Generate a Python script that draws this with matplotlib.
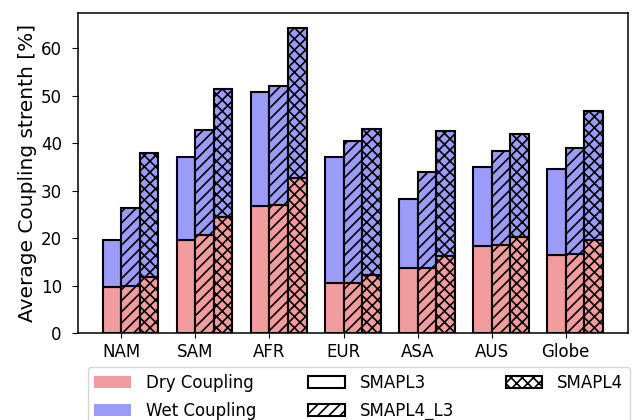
import numpy as np
import matplotlib
matplotlib.use('Agg')
import matplotlib.pyplot as plt
from matplotlib.patches import Patch

regions = ['NAM', 'SAM', 'AFR', 'EUR', 'ASA', 'AUS', 'Globe']
products = ['SMAPL3', 'SMAPL4_L3', 'SMAPL4']
hatches = ['', '///', 'xxx']

# dry coupling part (bottom) and total (dry + wet) for each product
dry_l3 = [9.8, 19.6, 26.8, 10.5, 13.6, 18.3, 16.5]
tot_l3 = [19.5, 37.0, 50.8, 37.1, 28.2, 34.9, 34.5]
dry_l4l3 = [10.0, 20.7, 26.9, 10.6, 13.8, 18.6, 16.7]
tot_l4l3 = [26.4, 42.8, 52.1, 40.5, 34.0, 38.4, 38.9]
dry_l4 = [11.9, 24.4, 32.7, 12.2, 16.3, 20.3, 19.6]
tot_l4 = [38.0, 51.4, 64.2, 42.9, 42.6, 41.9, 46.8]

dry_all = [dry_l3, dry_l4l3, dry_l4]
tot_all = [tot_l3, tot_l4l3, tot_l4]

dry_color = '#f29d9d'
wet_color = '#9b9bf8'

plt.rcParams['font.size'] = 12
plt.rcParams['hatch.linewidth'] = 1.2
plt.rcParams['ytick.major.size'] = 4.5
plt.rcParams['ytick.major.pad'] = 7
plt.rcParams['axes.linewidth'] = 1.1

fig = plt.figure(figsize=(6.38, 4.2), dpi=100)
ax = fig.add_axes([0.122, 0.207, 0.862, 0.762])

x = np.arange(len(regions))
w = 0.25
for i in range(3):
    dry = np.array(dry_all[i])
    wet = np.array(tot_all[i]) - dry
    pos = x + (i - 1) * w
    ax.bar(pos, dry, w, align='edge', color=dry_color, edgecolor='black',
           linewidth=1.5, hatch=hatches[i])
    ax.bar(pos, wet, w, bottom=dry, align='edge', color=wet_color,
           edgecolor='black', linewidth=1.5, hatch=hatches[i])

ax.set_xticks(x)
ax.set_xticklabels(regions)
ax.set_ylabel('Average Coupling strenth [%]', fontsize=14.5, labelpad=3)

handles = [
    Patch(facecolor=dry_color, edgecolor='none', label='Dry Coupling'),
    Patch(facecolor=wet_color, edgecolor='none', label='Wet Coupling'),
]
for p, h in zip(products, hatches):
    handles.append(Patch(facecolor='white', edgecolor='black', hatch=h,
                         linewidth=1.5, label=p))
ax.legend(handles=handles, ncol=3, loc='upper center',
          bbox_to_anchor=(0.511, -0.08), frameon=True, columnspacing=3.1,
          handlelength=2.2, handletextpad=0.9, labelspacing=0.6)

fig.savefig('out.png', dpi=100)
